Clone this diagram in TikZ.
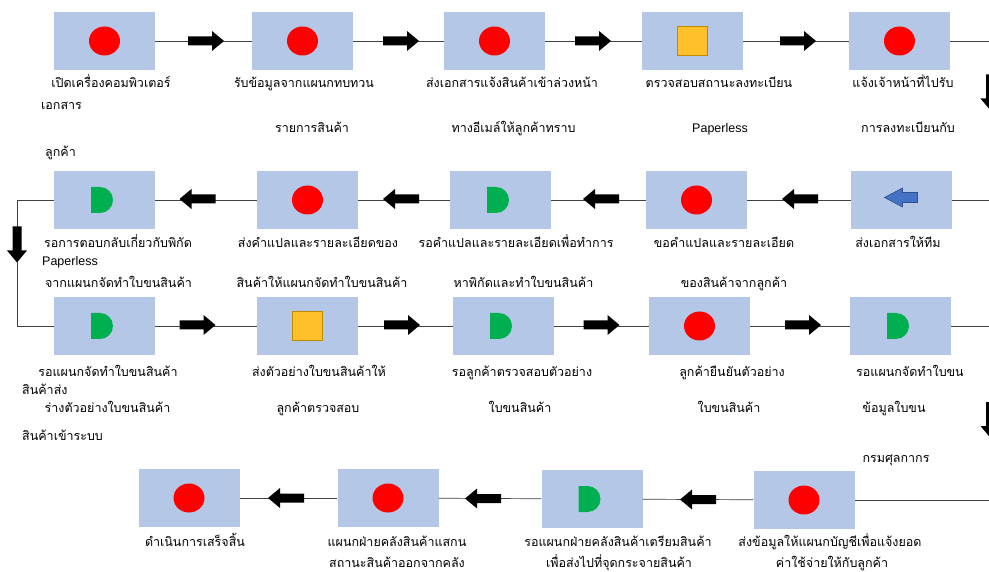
\documentclass[tikz,border=0pt]{standalone}
\usepackage{fontspec}
\setmainfont[Script=Thai]{Loma}
\newfontfamily\latinf{Liberation Sans}
\definecolor{boxblue}{HTML}{B4C7E7}
\definecolor{dotred}{HTML}{FF0000}
\definecolor{deegreen}{HTML}{00B050}
\definecolor{sqfill}{HTML}{FFC02A}
\definecolor{sqedge}{HTML}{C08A00}
\definecolor{arrfill}{HTML}{4472C4}
\definecolor{arredge}{HTML}{2F528F}
\definecolor{linegray}{HTML}{404040}
\tikzset{
  procbox/.style={rectangle, fill=boxblue, minimum width=101pt, minimum height=58pt, inner sep=0pt},
  conn/.style={draw=linegray, line width=0.7pt},
  lbl/.style={font=\fontsize{12.5}{15}\selectfont, inner sep=0pt, anchor=base},
  lbll/.style={lbl, anchor=base west},
  pics/dot/.style={code={\fill[dotred] (0,0) ellipse[x radius=15.5, y radius=14.5];}},
  pics/sq/.style={code={\draw[fill=sqfill, draw=sqedge, line width=0.8pt] (-15,-15) rectangle (15,14);}},
  pics/dee/.style={code={\fill[deegreen] (-13.5,-13) -- (-4.5,-13) arc[start angle=-90, end angle=90, radius=13] -- (-13.5,13) -- cycle;}},
  pics/barrow/.style={code={\draw[fill=arrfill, draw=arredge, line width=0.6pt] (16,-7.5) -- (1,-7.5) -- (1,-12) -- (-17,-2.5) -- (1,7) -- (1,2.5) -- (16,2.5) -- cycle;}},
  pics/barR/.style={code={\fill[black] (-18,-4.5) -- (6,-4.5) -- (6,-10) -- (18,0) -- (6,10) -- (6,4.5) -- (-18,4.5) -- cycle;}},
  pics/barL/.style={code={\fill[black] (18,-4.5) -- (-6,-4.5) -- (-6,-10) -- (-18,0) -- (-6,10) -- (-6,4.5) -- (18,4.5) -- cycle;}},
  pics/barD/.style={code={\fill[black] (-4.5,-18) -- (-4.5,6) -- (-10,6) -- (0,18) -- (10,6) -- (4.5,6) -- (4.5,-18) -- cycle;}},
}
\begin{document}
\begin{tikzpicture}[x=1pt,y=-1pt]
\useasboundingbox (0,0) rectangle (989,572);
\fill[white] (0,0) rectangle (989,572);
% ---------- boxes ----------
\node[procbox] (b11) at (104.5,41) {};
\node[procbox] (b12) at (302.5,41) {};
\node[procbox] (b13) at (494.5,41) {};
\node[procbox] (b14) at (692.5,41) {};
\node[procbox] (b15) at (899.5,41) {};
\node[procbox] (b21) at (104.5,200) {};
\node[procbox] (b22) at (307.5,200) {};
\node[procbox] (b23) at (500.5,200) {};
\node[procbox] (b24) at (696.5,200) {};
\node[procbox] (b25) at (901.5,200) {};
\node[procbox] (b31) at (104.5,326) {};
\node[procbox] (b32) at (307.5,326) {};
\node[procbox] (b33) at (503.5,326) {};
\node[procbox] (b34) at (699.5,326) {};
\node[procbox] (b35) at (900.5,326) {};
\node[procbox] (b41) at (189,498) {};
\node[procbox] (b42) at (388,498) {};
\node[procbox] (b43) at (592,499) {};
\node[procbox] (b44) at (804,500) {};
% ---------- turn coordinates ----------
\coordinate (c1) at (990.5,41);
\coordinate (c2) at (990.5,200);
\coordinate (c3) at (17,200);
\coordinate (c4) at (17,326);
\coordinate (c5) at (990.5,326);
\coordinate (c6) at (990.5,500);
% ---------- connectors ----------
\draw[conn] (b11) -- (b12);
\draw[conn] (b12) -- (b13);
\draw[conn] (b13) -- (b14);
\draw[conn] (b14) -- (b15);
\draw[conn] (b15.east) -- (c1) -- (c2) -- (b25.east);
\draw[conn] (b25) -- (b24);
\draw[conn] (b24) -- (b23);
\draw[conn] (b23) -- (b22);
\draw[conn] (b22) -- (b21);
\draw[conn] (b21.west) -- (c3) -- (c4) -- (b31.west);
\draw[conn] (b31) -- (b32);
\draw[conn] (b32) -- (b33);
\draw[conn] (b33) -- (b34);
\draw[conn] (b34) -- (b35);
\draw[conn] (b35.east) -- (c5) -- (c6) -- (b44.east);
\draw[conn] (b44) -- (b43);
\draw[conn] (b43) -- (b42);
\draw[conn] (b42) -- (b41);
% ---------- block arrows ----------
\pic at (206,41) {barR};
\pic at (401,41) {barR};
\pic at (593,41) {barR};
\pic at (798,41) {barR};
\pic at (990.5,92.5) {barD};
\pic at (197.5,199) {barL};
\pic at (401,199) {barL};
\pic at (601,199) {barL};
\pic at (800,199) {barL};
\pic at (17,244.5) {barD};
\pic at (197.5,325) {barR};
\pic at (402,325) {barR};
\pic at (601.5,325) {barR};
\pic at (803,325) {barR};
\pic at (990.5,420) {barD};
\pic at (286,498) {barL};
\pic at (483,498.5) {barL};
\pic at (698,499.5) {barL};
% ---------- icons ----------
\pic at (b11) {dot};
\pic at (b12) {dot};
\pic at (b13) {dot};
\pic at (b14) {sq};
\pic at (b15) {dot};
\pic at (b21) {dee};
\pic at (b22) {dot};
\pic at (b23) {dee};
\pic at (b24) {dot};
\pic at (b25) {barrow};
\pic at (b31) {dee};
\pic at (b32) {sq};
\pic at (b33) {dee};
\pic at (b34) {dot};
\pic at (b35) {dee};
\pic at (b41) {dot};
\pic at (b42) {dot};
\pic at (b43) {dee};
\pic at (b44) {dot};
% ---------- labels row 1 ----------
\node[lbl] (t11a) at (111,88) {เปิดเครื่องคอมพิวเตอร์};
\node[lbll] (t11b) at (41,110) {เอกสาร};
\node[lbll] (t11c) at (45,157) {ลูกค้า};
\node[lbl] (t12a) at (304,88) {รับข้อมูลจากแผนกทบทวน};
\node[lbl] (t12b) at (312,133) {รายการสินค้า};
\node[lbl] (t13a) at (512,88) {ส่งเอกสารแจ้งสินค้าเข้าล่วงหน้า};
\node[lbl] (t13b) at (513.5,133) {ทางอีเมล์ให้ลูกค้าทราบ};
\node[lbl] (t14a) at (719,88) {ตรวจสอบสถานะลงทะเบียน};
\node[lbl] (t14b) at (720,133) {\latinf Paperless};
\node[lbl] (t15a) at (903,88) {แจ้งเจ้าหน้าที่ไปรับ};
\node[lbl] (t15b) at (908,133) {การลงทะเบียนกับ};
% ---------- labels row 2 ----------
\node[lbl] (t21a) at (118,248) {รอการตอบกลับเกี่ยวกับพิกัด};
\node[lbll] (t21b) at (42,266) {\latinf Paperless};
\node[lbl] (t21c) at (118.5,288) {จากแผนกจัดทำใบขนสินค้า};
\node[lbl] (t22a) at (318,248) {ส่งคำแปลและรายละเอียดของ};
\node[lbl] (t22b) at (322,288) {สินค้าให้แผนกจัดทำใบขนสินค้า};
\node[lbl] (t23a) at (516,248) {รอคำแปลและรายละเอียดเพื่อทำการ};
\node[lbl] (t23b) at (523.5,288) {หาพิกัดและทำใบขนสินค้า};
\node[lbl] (t24a) at (724,248) {ขอคำแปลและรายละเอียด};
\node[lbl] (t24b) at (734,288) {ของสินค้าจากลูกค้า};
\node[lbl] (t25a) at (898,248) {ส่งเอกสารให้ทีม};
% ---------- labels row 3 ----------
\node[lbl] (t31a) at (108,377) {รอแผนกจัดทำใบขนสินค้า};
\node[lbll] (t31b) at (22,394) {สินค้าส่ง};
\node[lbl] (t31c) at (107.5,413) {ร่างตัวอย่างใบขนสินค้า};
\node[lbll] (t31d) at (22,440) {สินค้าเข้าระบบ};
\node[lbl] (t32a) at (319,377) {ส่งตัวอย่างใบขนสินค้าให้};
\node[lbl] (t32b) at (318,413) {ลูกค้าตรวจสอบ};
\node[lbl] (t33a) at (522,377) {รอลูกค้าตรวจสอบตัวอย่าง};
\node[lbl] (t33b) at (520,413) {ใบขนสินค้า};
\node[lbl] (t34a) at (732,377) {ลูกค้ายืนยันตัวอย่าง};
\node[lbl] (t34b) at (729,413) {ใบขนสินค้า};
\node[lbl] (t35a) at (910,377) {รอแผนกจัดทำใบขน};
\node[lbl] (t35b) at (894,413) {ข้อมูลใบขน};
\node[lbl] (t35c) at (896,462) {กรมศุลกากร};
% ---------- labels row 4 ----------
\node[lbl] (t41a) at (195,546) {ดำเนินการเสร็จสิ้น};
\node[lbl] (t42a) at (397,546) {แผนกฝ่ายคลังสินค้าแสกน};
\node[lbl] (t42b) at (397,567) {สถานะสินค้าออกจากคลัง};
\node[lbl] (t43a) at (618,546) {รอแผนกฝ่ายคลังสินค้าเตรียมสินค้า};
\node[lbl] (t43b) at (619,567) {เพื่อส่งไปที่จุดกระจายสินค้า};
\node[lbl] (t44a) at (830,546) {ส่งข้อมูลให้แผนกบัญชีเพื่อแจ้งยอด};
\node[lbl] (t44b) at (832,567) {ค่าใช้จ่ายให้กับลูกค้า};
\end{tikzpicture}
\end{document}
